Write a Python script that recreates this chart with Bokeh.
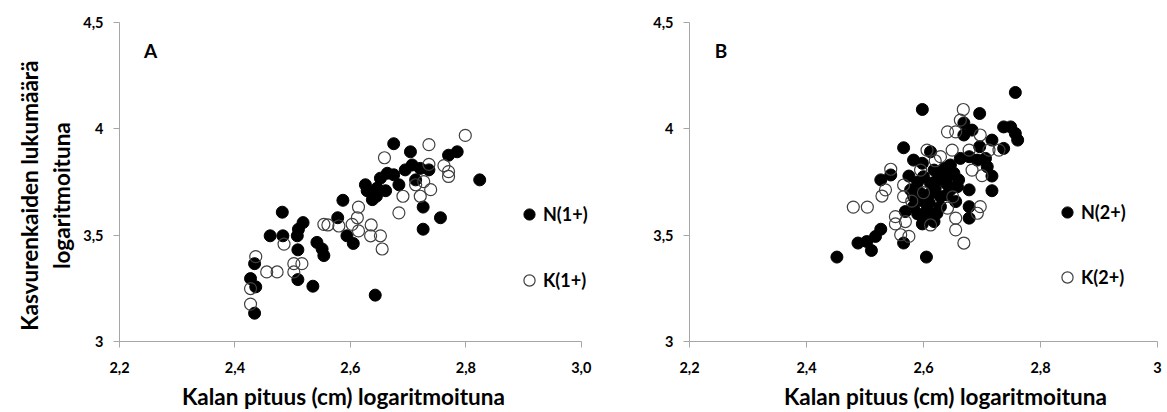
from bokeh.plotting import figure
from bokeh.layouts import row
from bokeh.models import Range1d, FixedTicker, Legend, LegendItem, Label
from bokeh.embed import file_html
from bokeh.resources import INLINE

# ---------------- data ----------------
nA_x = [2.675, 2.704, 2.770, 2.785, 2.824, 2.695, 2.707, 2.721, 2.736, 2.713, 2.626, 2.629, 2.646, 2.652, 2.664,
        2.675, 2.684, 2.661, 2.638, 2.645, 2.587, 2.726, 2.756, 2.726, 2.578, 2.482, 2.518, 2.510, 2.508, 2.461,
        2.483, 2.509, 2.542, 2.551, 2.554, 2.594, 2.605, 2.434, 2.427, 2.436, 2.509, 2.535, 2.643, 2.434]
nA_y = [3.930, 3.892, 3.876, 3.892, 3.760, 3.807, 3.830, 3.814, 3.807, 3.760, 3.737, 3.709, 3.721, 3.768, 3.791,
        3.784, 3.737, 3.709, 3.667, 3.683, 3.664, 3.632, 3.582, 3.528, 3.582, 3.608, 3.559, 3.528, 3.497, 3.497,
        3.497, 3.431, 3.466, 3.435, 3.404, 3.497, 3.461, 3.366, 3.296, 3.257, 3.291, 3.260, 3.218, 3.133]

kA_x = [2.799, 2.736, 2.659, 2.736, 2.762, 2.770, 2.770, 2.713, 2.727, 2.739, 2.721, 2.691, 2.684, 2.614, 2.612,
        2.614, 2.636, 2.652, 2.655, 2.635, 2.603, 2.554, 2.561, 2.580, 2.485, 2.502, 2.516, 2.502, 2.455, 2.473,
        2.436, 2.427, 2.427]
kA_y = [3.969, 3.926, 3.864, 3.833, 3.827, 3.799, 3.776, 3.737, 3.752, 3.714, 3.683, 3.683, 3.605, 3.632, 3.582,
        3.520, 3.548, 3.497, 3.435, 3.497, 3.551, 3.551, 3.548, 3.543, 3.458, 3.366, 3.366, 3.327, 3.327, 3.327,
        3.399, 3.249, 3.176]

nB_x = [2.757, 2.598, 2.696, 2.669, 2.683, 2.669, 2.737, 2.749, 2.757, 2.761, 2.737, 2.717, 2.566, 2.612, 2.696,
        2.583, 2.598, 2.663, 2.678, 2.692, 2.706, 2.646, 2.635, 2.709, 2.717, 2.717, 2.527, 2.544, 2.575, 2.600,
        2.618, 2.612, 2.623, 2.641, 2.652, 2.578, 2.583, 2.595, 2.612, 2.629, 2.646, 2.658, 2.678, 2.655, 2.678,
        2.678, 2.569, 2.583, 2.606, 2.623, 2.629, 2.606, 2.618, 2.598, 2.527, 2.518, 2.503, 2.488, 2.511, 2.566,
        2.452, 2.605, 2.590, 2.620, 2.600, 2.640, 2.630, 2.660, 2.590, 2.610, 2.640]
nB_y = [4.171, 4.091, 4.072, 4.028, 3.994, 3.971, 4.009, 4.009, 3.978, 3.947, 3.908, 3.947, 3.911, 3.892, 3.916,
        3.853, 3.838, 3.861, 3.869, 3.853, 3.861, 3.830, 3.814, 3.822, 3.778, 3.709, 3.760, 3.783, 3.778, 3.775,
        3.806, 3.744, 3.760, 3.775, 3.791, 3.713, 3.681, 3.697, 3.697, 3.681, 3.713, 3.728, 3.713, 3.658, 3.634,
        3.580, 3.611, 3.634, 3.619, 3.603, 3.634, 3.587, 3.564, 3.553, 3.528, 3.494, 3.470, 3.463, 3.428, 3.463,
        3.397, 3.397, 3.750, 3.720, 3.660, 3.740, 3.790, 3.760, 3.600, 3.650, 3.690]

kB_x = [2.668, 2.663, 2.641, 2.655, 2.697, 2.606, 2.649, 2.678, 2.712, 2.729, 2.544, 2.535, 2.529, 2.566, 2.566,
        2.683, 2.480, 2.504, 2.697, 2.692, 2.552, 2.552, 2.569, 2.612, 2.655, 2.655, 2.669, 2.561, 2.575, 2.641,
        2.629, 2.595, 2.620, 2.600, 2.650, 2.580, 2.700]
kB_y = [4.091, 4.041, 3.986, 3.986, 3.971, 3.900, 3.900, 3.900, 3.900, 3.900, 3.810, 3.713, 3.684, 3.736, 3.681,
        3.806, 3.632, 3.632, 3.634, 3.603, 3.587, 3.553, 3.564, 3.548, 3.580, 3.525, 3.463, 3.502, 3.494, 3.627,
        3.869, 3.806, 3.850, 3.700, 3.680, 3.660, 3.780]

y_ticks = [3.0, 3.5, 4.0, 4.5]
y_tick_labels = ["3", "3,5", "4", "4,5"]
x_ticks = [2.2, 2.4, 2.6, 2.8, 3.0]
xA_tick_labels = ["2,2", "2,4", "2,6", "2,8", "3,0"]
xB_tick_labels = ["2,2", "2,4", "2,6", "2,8", "3"]
x_title = "Kalan pituus (cm) logaritmoituna"
y_title_lines = ["Kasvurenkaiden lukumäärä", "logaritmoituna"]

FONT = "Lato"
AXIS_COLOR = "#a6a6a6"
NB = "\u00a0"


def style_axes(p, xlabels, xtitle):
    p.xaxis.ticker = FixedTicker(ticks=x_ticks)
    p.yaxis.ticker = FixedTicker(ticks=y_ticks)
    p.xaxis.bounds = (2.2, 3.0)
    p.xaxis.major_label_overrides = {t: l for t, l in zip(x_ticks, xlabels)}
    p.yaxis.major_label_overrides = {t: l for t, l in zip(y_ticks, y_tick_labels)}
    for ax in (p.xaxis, p.yaxis):
        ax.axis_line_color = AXIS_COLOR
        ax.major_tick_line_color = AXIS_COLOR
        ax.minor_tick_line_color = None
        ax.major_tick_out = 6
        ax.major_tick_in = 0
        ax.major_label_text_font = FONT
        ax.major_label_text_font_style = "bold"
        ax.major_label_text_font_size = "14.5px"
        ax.major_label_text_color = "#000000"
        ax.axis_label_text_font = FONT
        ax.axis_label_text_font_style = "bold"
        ax.axis_label_text_font_size = "22.5px"
        ax.axis_label_text_color = "#000000"
    p.xaxis.major_label_standoff = 14
    p.yaxis.major_label_standoff = 10
    p.xaxis.axis_label = xtitle
    p.xaxis.axis_label_standoff = 7
    p.xgrid.grid_line_color = None
    p.ygrid.grid_line_color = None
    p.outline_line_color = None


def make_panel(width, left, right, top, xmax, nx, ny, kx, ky, xlabels, xtitle, nlab, klab, letter,
               leg_loc, leg_spacing, ylabel):
    p = figure(width=width, height=412, output_backend="svg", toolbar_location=None,
               x_range=Range1d(2.2, xmax), y_range=Range1d(3.0, 4.5),
               min_border_left=left, min_border_right=right, min_border_top=top, min_border_bottom=70)
    style_axes(p, xlabels, xtitle)
    if ylabel:
        p.yaxis.axis_label = ylabel
        p.yaxis.axis_label_standoff = 5
    rn = p.scatter(nx, ny, size=12, fill_color="#000000", line_color="#000000", line_width=1)
    rk = p.scatter(kx, ky, size=12, fill_alpha=0, line_color="#404040", line_width=1.2)
    leg = Legend(items=[LegendItem(label=nlab, renderers=[rn]), LegendItem(label=klab, renderers=[rk])],
                 location=leg_loc, orientation="vertical", spacing=leg_spacing, padding=0, margin=0,
                 glyph_width=28, glyph_height=28, label_height=28, label_standoff=0,
                 label_text_font=FONT, label_text_font_style="bold", label_text_font_size="18px",
                 label_text_color="#000000",
                 border_line_color=None, background_fill_alpha=0)
    p.add_layout(leg, "center")
    lbl = Label(x=2.254, y=4.366, text=letter, text_font=FONT, text_font_style="bold",
                text_font_size="19px", text_color="#000000", text_align="center", text_baseline="middle")
    p.add_layout(lbl)
    return p


pA = make_panel(630, 119, 3, 19, 3.08, nA_x, nA_y, kA_x, kA_y, xA_tick_labels, x_title + NB * 11,
                "N(1+)", "K(1+)", "A", (396, 47), 38,
                "\n".join(line + NB * 5 for line in y_title_lines))
pB = make_panel(537, 59, 10, 22, 3.0, nB_x, nB_y, kB_x, kB_y, xB_tick_labels, NB * 8 + x_title,
                "N(2+)", "K(2+)", "B", (364, 50), 37, None)

layout = row(pA, pB)
open("out.html", "w").write(file_html(layout, INLINE))
